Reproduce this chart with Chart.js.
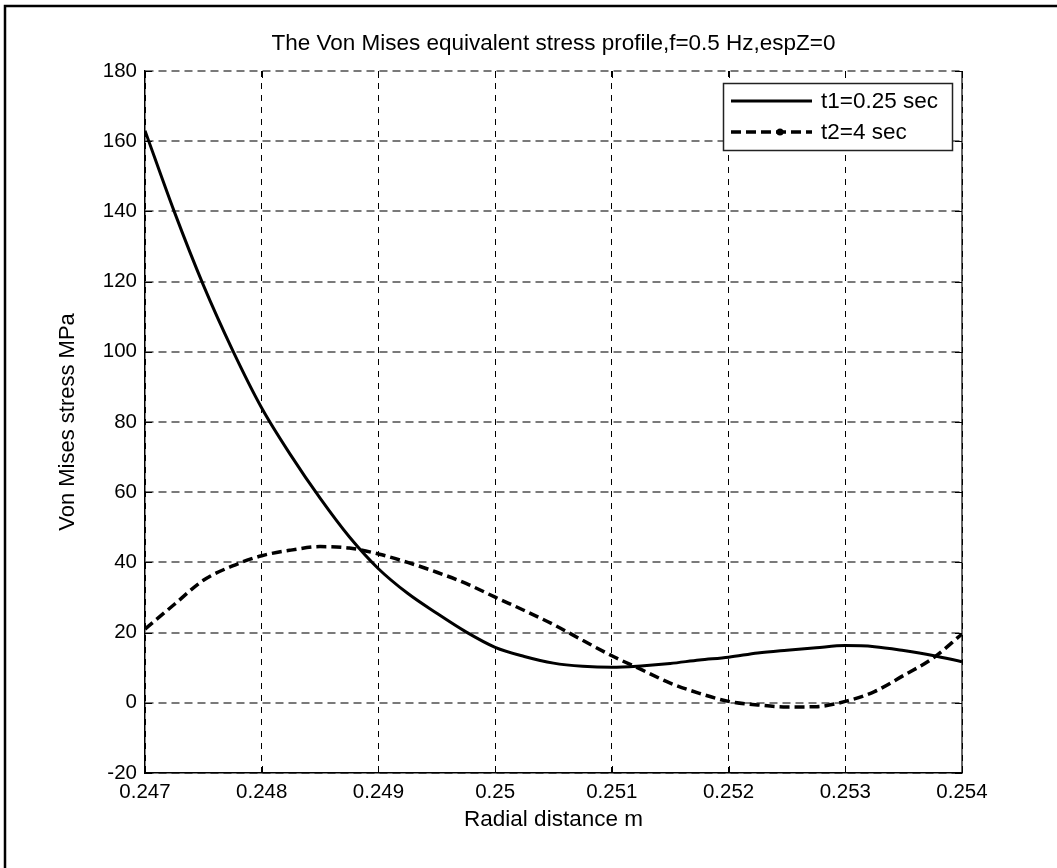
<!DOCTYPE html>
<html>
<head>
<meta charset="utf-8">
<title>Von Mises equivalent stress profile</title>
<script src="https://cdn.jsdelivr.net/npm/chart.js@4.4.1/dist/chart.umd.min.js"></script>
<style>
  html, body { margin: 0; padding: 0; background: #ffffff; }
  #wrap { width: 1057px; height: 868px; position: relative; }
</style>
</head>
<body>
<div id="wrap"><canvas id="c" width="1057" height="868"></canvas></div>
<script>
// Radial positions (m) and Von Mises stress (MPa) at two instants
const radialDistance = [
  0.24700, 0.24725, 0.24750, 0.24775, 0.24800, 0.24825, 0.24850, 0.24875,
  0.24900, 0.24925, 0.24950, 0.24975, 0.25000, 0.25025, 0.25050, 0.25075,
  0.25100, 0.25125, 0.25150, 0.25175, 0.25200, 0.25225, 0.25250, 0.25275,
  0.25300, 0.25325, 0.25350, 0.25375, 0.25400
];
const stressT1 = [
  163, 140, 119, 100.5, 84, 70.5, 58.3, 47.3,
  38.2, 31.2, 25.5, 20.2, 15.8, 13.2, 11.3, 10.4,
  10.1, 10.5, 11.2, 12.2, 13.0, 14.2, 15.0, 15.7,
  16.3, 16.0, 14.9, 13.5, 11.7
];
const stressT2 = [
  21, 28.0, 34.9, 39.0, 41.9, 43.5, 44.5, 44.1,
  42.4, 40.0, 37.2, 34.0, 30.1, 26.3, 22.3, 17.8,
  13.4, 9.5, 5.6, 2.7, 0.4, -0.6, -1.2, -1.1,
  0.4, 3.2, 7.8, 12.7, 19.6
];
const seriesNames = ['t1=0.25 sec', 't2=4 sec'];
const xTickLabels = ['0.247', '0.248', '0.249', '0.25', '0.251', '0.252', '0.253', '0.254'];
const xRange = [0.247, 0.254];
const yRange = [-20, 180];

const FONT = 'Liberation Sans, Arial, Helvetica, sans-serif';

const toPoints = (xs, ys) => xs.map((x, i) => ({ x: x, y: ys[i] }));

// Figure frame, plot box edges, inward tick marks and the legend box
const framePlugin = {
  id: 'frame',
  afterDraw(chart) {
    const ctx = chart.ctx;
    const a = chart.chartArea;
    const xs = chart.scales.x, ys = chart.scales.y;
    ctx.save();
    // outer figure frame (top and left edges visible)
    ctx.strokeStyle = '#000';
    ctx.lineWidth = 2.5;
    ctx.beginPath();
    ctx.moveTo(5, 868);
    ctx.lineTo(5, 6);
    ctx.lineTo(1057, 6);
    ctx.stroke();

    // right edge of the axes box
    ctx.lineWidth = 1.2;
    ctx.beginPath();
    ctx.moveTo(a.right, a.top);
    ctx.lineTo(a.right, a.bottom);
    ctx.stroke();

    // inward tick marks
    const tl = 7;
    ctx.lineWidth = 1;
    ctx.beginPath();
    ys.ticks.forEach(t => {
      const py = Math.round(ys.getPixelForValue(t.value)) + 0.5;
      ctx.moveTo(a.left, py); ctx.lineTo(a.left + tl, py);
      ctx.moveTo(a.right, py); ctx.lineTo(a.right - tl, py);
    });
    xs.ticks.forEach(t => {
      const px = Math.round(xs.getPixelForValue(t.value)) + 0.5;
      ctx.moveTo(px, a.bottom); ctx.lineTo(px, a.bottom - tl);
      ctx.moveTo(px, a.top); ctx.lineTo(px, a.top + tl);
    });
    ctx.stroke();

    // legend
    const box = { x: 723, y: 83, w: 229, h: 67 };
    ctx.fillStyle = '#fff';
    ctx.fillRect(box.x, box.y, box.w, box.h);
    ctx.strokeStyle = '#222';
    ctx.lineWidth = 1.5;
    ctx.strokeRect(box.x + 0.5, box.y + 0.5, box.w, box.h);

    const rows = [101, 132];
    chart.data.datasets.forEach((ds, i) => {
      const y = rows[i];
      ctx.strokeStyle = ds.borderColor;
      ctx.lineWidth = ds.borderWidth;
      ctx.setLineDash(ds.borderDash || []);
      ctx.beginPath();
      ctx.moveTo(731, y);
      ctx.lineTo(812, y);
      ctx.stroke();
      ctx.setLineDash([]);
      if (i === 1) {
        ctx.fillStyle = '#000';
        ctx.beginPath();
        ctx.arc(780, y, 3.5, 0, Math.PI * 2);
        ctx.fill();
      }
      ctx.fillStyle = '#000';
      ctx.font = '22.5px ' + FONT;
      ctx.textAlign = 'left';
      ctx.textBaseline = 'middle';
      ctx.fillText(ds.label, 821, y + 1);
    });
    ctx.restore();
  }
};

new Chart(document.getElementById('c'), {
  type: 'line',
  data: {
    datasets: [
      {
        label: seriesNames[0],
        data: toPoints(radialDistance, stressT1),
        borderColor: '#000',
        borderWidth: 3,
        pointRadius: 0,
        cubicInterpolationMode: 'monotone',
        fill: false
      },
      {
        label: seriesNames[1],
        data: toPoints(radialDistance, stressT2),
        borderColor: '#000',
        borderWidth: 3.5,
        borderDash: [10, 5],
        pointRadius: 0,
        cubicInterpolationMode: 'monotone',
        fill: false
      }
    ]
  },
  options: {
    responsive: false,
    animation: false,
    layout: { padding: { left: 0, right: 95, top: 0, bottom: 0 } },
    plugins: {
      legend: { display: false },
      tooltip: { enabled: false },
      title: {
        display: true,
        text: 'The Von Mises equivalent stress profile,f=0.5 Hz,espZ=0',
        color: '#000',
        fullSize: false,
        font: { family: FONT, size: 22.5, weight: 'normal' },
        padding: { top: 30, bottom: 14 }
      }
    },
    scales: {
      x: {
        type: 'linear',
        min: xRange[0],
        max: xRange[1],
        afterFit(scale) { scale.height = 95; },
        afterBuildTicks(scale) {
          scale.ticks = xTickLabels.map(v => ({ value: parseFloat(v) }));
        },
        ticks: {
          color: '#000',
          padding: 7,
          maxRotation: 0,
          autoSkip: false,
          font: { family: FONT, size: 20.5 },
          callback: (v, i) => xTickLabels[i]
        },
        grid: { color: '#000', lineWidth: 1, drawTicks: false },
        border: { display: true, color: '#000', width: 1.5, dash: [6, 6] },
        title: {
          display: true,
          text: 'Radial distance m',
          color: '#000',
          font: { family: FONT, size: 22.5 },
          padding: { top: 0, bottom: 35 }
        }
      },
      y: {
        type: 'linear',
        min: yRange[0],
        max: yRange[1],
        afterFit(scale) { scale.width = 145; },
        ticks: {
          color: '#000',
          stepSize: 20,
          padding: 8,
          font: { family: FONT, size: 20.5 }
        },
        grid: { color: '#7a7a7a', lineWidth: 2, drawTicks: false },
        border: { display: true, color: '#000', width: 1.5, dash: [8, 5] },
        title: {
          display: true,
          text: 'Von Mises stress MPa',
          color: '#000',
          font: { family: FONT, size: 22 },
          padding: { top: 55, bottom: 0 }
        }
      }
    }
  },
  plugins: [framePlugin]
});
</script>
</body>
</html>
